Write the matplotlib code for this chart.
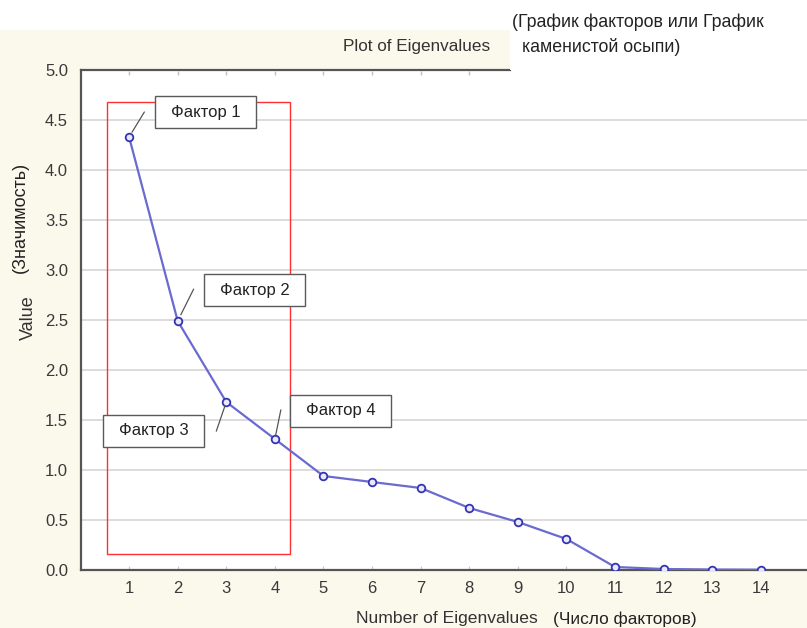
import matplotlib
matplotlib.use("Agg")
from matplotlib import pyplot as plt
from matplotlib.patches import Rectangle

plt.rcParams['font.family'] = ['Liberation Sans', 'DejaVu Sans']

# eigenvalues
factors = list(range(1, 15))
eigen = [4.33, 2.49, 1.68, 1.31, 0.94, 0.88, 0.82, 0.62, 0.48, 0.31, 0.03, 0.01, 0.005, 0.003]
labels = ['Фактор 1', 'Фактор 2', 'Фактор 3', 'Фактор 4']
yticks = [0.0, 0.5, 1.0, 1.5, 2.0, 2.5, 3.0, 3.5, 4.0, 4.5, 5.0]

W, H = 807, 628
fig = plt.figure(figsize=(W / 100, H / 100), dpi=100, facecolor='#fbf8ec')

# white strips around the window (top and upper right)
fig.patches.append(Rectangle((0, 1 - 30 / H), 1, 30 / H, transform=fig.transFigure,
                             facecolor='white', edgecolor='none', zorder=0))
fig.patches.append(Rectangle((510 / W, 1 - 70 / H), 1 - 510 / W, 40 / H, transform=fig.transFigure,
                             facecolor='white', edgecolor='none', zorder=0))

ax = fig.add_axes([80.5 / W, 1 - 570 / H, 1 - 80.5 / W, 500 / H])
ax.set_facecolor('white')
ax.set_xlim(0, 14.95)
ax.set_ylim(0, 5.0)

ax.set_yticks(yticks)
ax.set_yticklabels([f'{v:.1f}' for v in yticks])
ax.set_xticks(factors)
ax.tick_params(axis='y', length=0, pad=9, labelsize=12, labelcolor='#3a3a3a')
ax.tick_params(axis='x', direction='in', length=3, color='#c8c8c8', pad=8,
               labelsize=12, labelcolor='#3a3a3a')

for s in ['top', 'right']:
    ax.spines[s].set_visible(False)
for s in ['left', 'bottom']:
    ax.spines[s].set_color('#555555')
    ax.spines[s].set_linewidth(1.6)
ax.axhline(5.0, 0, 0.591, color='#555555', lw=1.6, clip_on=False)

for v in yticks[1:-1]:
    ax.axhline(v, color='#dcdcdc', lw=1.4, zorder=1)
ax.plot(factors[:8], [4.97] * 8, ls='none', marker='|', ms=3, color='#c0c0c0', zorder=2)

ax.plot(factors, eigen, color='#6a6ad0', lw=1.6, marker='o', ms=5.5,
        mfc='#e8e8ff', mec='#3434b0', mew=1.3, zorder=4)

# red frame around the first four factors
ax.add_patch(Rectangle((0.545, 0.16), 3.765, 4.52, fill=False, edgecolor='#ff3030', lw=1.0, zorder=3))

# label boxes and leader lines
boxes = [(1.533, 4.42), (2.541, 2.64), (0.463, 1.23), (4.31, 1.43)]
leaders = [((11, 18), 4), ((11.5, 23), 5), ((-7.2, -21), 3), ((4.3, 21), 2)]
for i, lab in enumerate(labels):
    x0, y0 = boxes[i]
    ax.add_patch(Rectangle((x0, y0), 2.08, 0.32, facecolor='white', edgecolor='#5a5a5a',
                           lw=1.0, zorder=5))
    ax.text(x0 + 1.04, y0 + 0.16, lab, ha='center', va='center', fontsize=12,
            color='#222222', zorder=6)
    off, shr = leaders[i]
    ax.annotate('', xy=(factors[i], eigen[i]), xytext=off, textcoords='offset points',
                arrowprops=dict(arrowstyle='-', color='#555555', lw=0.9, shrinkA=0, shrinkB=shr),
                zorder=5)

fig.text(417 / W, 1 - 47 / H, 'Plot of Eigenvalues', ha='center', va='center',
         fontsize=12.3, color='#333333')
fig.text(512 / W, 1 - 22 / H, '(График факторов или График', ha='left', va='center',
         fontsize=12.8, color='#222222')
fig.text(522 / W, 1 - 47 / H, 'каменистой осыпи)', ha='left', va='center',
         fontsize=12.8, color='#222222')
fig.text(447 / W, 1 - 618 / H, 'Number of Eigenvalues', ha='center', va='center',
         fontsize=12.6, color='#333333')
fig.text(553 / W, 1 - 619 / H, '(Число факторов)', ha='left', va='center',
         fontsize=12.4, color='#222222')
fig.text(28 / W, 1 - 318 / H, 'Value', ha='center', va='center', rotation=90,
         fontsize=13, color='#333333')
fig.text(20 / W, 1 - 217 / H, '(Значимость)', ha='center', va='center', rotation=90,
         fontsize=13, color='#222222')

fig.savefig('out.png', dpi=100, facecolor=fig.get_facecolor())
